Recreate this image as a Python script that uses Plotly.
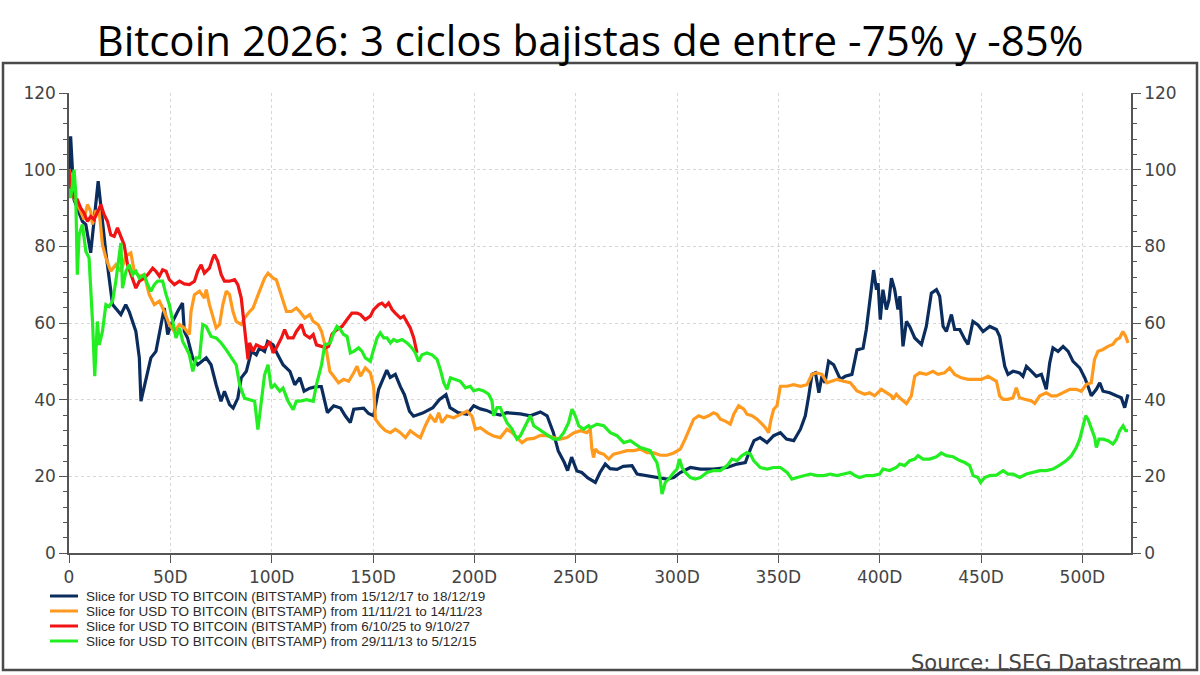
import plotly.graph_objects as go

# ---------------- data ----------------
series_names = [
    "Slice for USD TO BITCOIN (BITSTAMP) from 15/12/17 to 18/12/19",
    "Slice for USD TO BITCOIN (BITSTAMP) from 11/11/21 to 14/11/23",
    "Slice for USD TO BITCOIN (BITSTAMP) from 6/10/25 to 9/10/27",
    "Slice for USD TO BITCOIN (BITSTAMP) from 29/11/13 to 5/12/15",
]

blue_days = [0, 0.8, 2.5, 6.6, 8.3, 10.7, 14.4, 16.5, 18.2, 21.5, 25.6, 28, 29.7, 33, 34.7, 35.5, 38, 40.4,
             42.9, 45.4, 47, 48.7, 50.4, 53.6, 56, 56.9, 58.5, 61, 63.5, 67.7, 70.1, 72.6, 75, 76.7, 79.2, 81,
             83.3, 85, 87.5, 90, 92.4, 94, 96.5, 98, 100.7, 103, 105.6, 109, 111.4, 113.9, 116, 118.8, 122,
             124.5, 127.5, 130.6, 134, 136.3, 138.8, 140.5, 145.4, 147.8, 150.3, 152.8, 156.8, 158.5, 161,
             163.5, 165.5, 168, 170, 174.5, 179.5, 182.7, 186, 188, 192, 196.4, 199.7, 203, 206, 209.5, 212.8,
             216, 222.7, 227.6, 232.6, 235.9, 239, 241.4, 244.4, 246, 248, 250.6, 253, 256, 259.7, 262, 264.6,
             267, 270.4, 273.5, 277.8, 280.3, 285, 291.8, 295, 298.4, 301.6, 306.6, 311.5, 318, 324.7, 329.6,
             333.7, 336.2, 338, 341, 344.4, 347.7, 351, 354, 357.6, 360.9, 363.3, 365, 366.6, 368.3, 370,
             371.5, 373, 374.8, 377.3, 380.6, 383, 386.3, 388.8, 391.8, 393.4, 395, 397, 398.4, 399.2, 400.3,
             401.6, 403.3, 404.6, 405.8, 407.4, 409, 410, 411.5, 413.2, 414.8, 417.3, 420.6, 423, 425.5, 428,
             429.6, 431.3, 432.9, 435.4, 437, 439.5, 442, 443.6, 446, 448.5, 451, 454.3, 457.6, 459.2, 461.7,
             463.3, 465.8, 469, 470.7, 472.4, 474.9, 477.3, 479.8, 482.2, 483.9, 485.5, 488, 490.5, 493, 495.4,
             498.7, 501.2, 502.8, 504.4, 506.9, 508.6, 510.2, 513.5, 516.8, 519.2, 520.9, 522.5]
blue_vals = [100, 108.7, 92.2, 86.5, 85.7, 78.3, 97, 85.7, 78.3, 64.8, 62.2, 64.8, 63, 57.8, 50.9, 39.6, 45.7, 50.9,
             52.6, 59.6, 63.9, 57, 59.6, 63, 65.2, 57.8, 56.1, 50.9, 49.1, 50.9, 49.1, 43.9, 39.6, 42.2, 38.7, 37.8,
             40.4, 45.7, 47.4, 52.6, 51.7, 53.5, 52.6, 55.2, 54.3, 51.7, 49.1, 47.4, 43.9, 45.7, 42.2, 43, 43.4,
             43.4, 36.6, 38.4, 37.8, 35.8, 34, 37.5, 37.8, 36.4, 35.8, 42.7, 47.7, 45.8, 46.6,
             43.4, 41.3, 37, 35.7, 36.5, 37.9, 40, 41.3, 37.9, 36.6, 36.2, 38.4, 37.6, 37.2, 36.4, 36,
             36.6, 36.3, 35.8, 36.8, 35.8, 31.4, 26.6, 23.6, 21.5, 25, 21.4, 21, 19.6, 18.4, 21, 23.2,
             22, 21.8, 22.6, 22.8, 20.6, 20.2, 19.5, 19.3, 19.7, 21, 22.3, 21.9, 21.9, 22.3, 23.2,
             23.6, 27.1, 29.3, 30.1, 28.8, 30.6, 31.4, 29.7, 29.3, 32.3, 35.8, 41, 46.6, 47, 41.8,
             46.1, 44.4, 50, 49.1, 45.3, 46.1, 46.6, 53, 53.4, 58.3, 65.2, 73.8, 68.7, 70.4, 60.9,
             68.7, 63.5, 66.1, 71.7, 68.7, 63.5, 67, 53.9, 60.4, 59.1, 56.1, 54.4, 59.1, 67.8, 68.7,
             67, 59.1, 57.8, 62.2, 58.3, 58.3, 55.7, 54.4, 60.4, 59.5, 57.8, 59.1, 58.3, 56.5, 48.7,
             46.6, 47.4, 47, 46.1, 48.7, 47.4, 46.1, 46.6, 42.7, 49.6, 53.5, 52.6, 53.9, 52.6, 50,
             48.3, 45.7, 43.5, 41, 42.7, 44.4, 42.2, 41.8, 41, 40.5, 37.9, 41.4]

orange_days = [0, 0.8, 2.5, 5, 7.4, 9.1, 10.7, 11.6, 13.2, 14.9, 16.5, 18.2, 20.6, 23.1, 25.6, 28, 30.5, 32.2,
               34.7, 37.1, 39.6, 42.1, 44.6, 47, 49.5, 52, 54.5, 56.9, 59.4, 60.2, 61.9, 64.4, 66.8, 67.7, 69.3,
               71, 72.6, 74.3, 75.9, 77.6, 79.2, 80.9, 82.5, 85, 86.6, 89.1, 90.8, 94, 96.5, 98.2, 100.7, 102.3,
               104, 105.6, 107.3, 109.7, 112.2, 113.9, 116.3, 118.8, 120.5, 122.9, 124.6, 127.1, 128.7, 130.6,
               133, 135.5, 138, 140.5, 142.1, 143.8, 146.2, 148.7, 150.3, 151.2, 153.6, 156.1, 158.6, 161, 163.5,
               166, 168.4, 171.7, 173.4, 175.8, 178.3, 180.8, 182.4, 184, 186.5, 189.8, 193.1, 196.4, 198.8,
               200.5, 203, 206.3, 209.5, 212.8, 216.1, 218.6, 221, 223.5, 226, 229.3, 232.6, 235.9, 239.1,
               242.4, 245.7, 249, 252.3, 255.6, 257.2, 258, 258.8, 259.7, 261.4, 263.8, 266.3, 268.7, 272,
               275.3, 278.6, 281.9, 285.2, 288.5, 291.8, 295.1, 298.4, 301.6, 304, 305.8, 308.2, 310.7, 313.2,
               315.6, 318, 319.7, 321.4, 323.8, 326.3, 328, 330.4, 333, 334.5, 337, 339.5, 342, 343.6, 345.2,
               346.4, 347.7, 349.3, 351, 354.3, 357.6, 360.9, 364.1, 366.6, 369, 371.5, 374, 376.5, 379, 382.2,
               385.5, 388.8, 392.6, 395, 397.5, 400.8, 403.3, 405.8, 406.6, 408.2, 410.7, 413.2, 415.6, 417.3,
               419.7, 423, 426.3, 428.8, 432, 434.5, 437, 440.3, 443.6, 446.9, 450.2, 453.5, 456, 457.6, 459.2,
               460.9, 463.3, 465.8, 467.4, 469, 471.5, 474.8, 476.5, 479, 482.2, 484.7, 487.2, 490.5, 493.8,
               497, 499.5, 502, 504.4, 506, 507.7, 510.2, 512.6, 515, 516.8, 518.4, 520, 521.4, 522.5]
orange_vals = [100, 98.7, 92.6, 90, 87, 90.9, 89.1, 85.7, 89.1, 89.1, 80.4, 77, 73.5, 75.2, 73.5, 77.4, 78.3, 73.5,
               72.2, 72.6, 67.4, 64.8, 65.7, 63, 59.6, 57.8, 59.6, 58.7, 57, 63, 67.4, 68.3, 66.5, 68.7, 64.8,
               61.3, 58.7, 59.6, 64.8, 68.3, 67.4, 63, 60.4, 59.6, 61.3, 63, 63.9, 68.3, 71.7, 73, 71.7, 71.3,
               68.3, 65.7, 63, 63, 63.9, 63, 61.3, 62.2, 60.4, 59.6, 57.8, 52.6, 47.4, 46.1,
               44.4, 45.3, 44.8, 47, 48.7, 46.1, 48.3, 47, 43.5, 34.9, 33.2, 31.9, 31.4, 32.3, 31.4,
               30.1, 31.9, 30.6, 30.1, 33.2, 35.8, 34.2, 36.6, 34, 35.8, 35.3, 36.2, 37, 35.7,
               32.3, 32.7, 31.4, 30.5, 30.1, 32.3, 31.4, 30.1, 28.8, 29.7, 29.9, 30.7, 30.6, 30.1,
               29.7, 30.1, 31.3, 31.9, 31.4, 32.3, 27.1, 24.9, 27.1, 26.2, 25.8, 24.5, 25.8, 26.2,
               26.7, 26.7, 27.1, 26.2, 26.1, 25.5, 25.5, 26.1, 27.1, 29.7, 31.9, 34.9, 35.8, 35.3,
               35.8, 36.6, 36.2, 34.9, 34.4, 33.6, 36.2, 38.4, 37.5, 36.2, 35.8, 34.9, 33.6, 32.7, 31.4,
               34.9, 37.5, 38.4, 43.5, 43.5, 43.9, 43.5, 43.9, 46.6, 47, 46.6, 44.4, 44.8, 45.3, 44.8,
               44.4, 42.3, 41.4, 41.8, 41, 42.7, 41.8, 41, 40.1, 41.4, 40.1, 39, 41, 46.1,
               47, 46.6, 47.4, 46.6, 47, 48.3, 46.6, 45.7, 45.3, 45.3, 45.3, 46.1, 45.3, 44.8, 41,
               40.1, 40.1, 40.5, 43.1, 40.5, 40.1, 39.7, 39, 41, 41.8, 41, 41, 41.8, 42.7,
               42.7, 42.2, 44, 44.4, 50.5, 52.6, 53.1, 53.9, 54.4, 55.7, 56.1, 57.8, 56.5, 54.8]

red_days = [0, 0.8, 2.5, 4.1, 5.8, 7.4, 9.1, 10.7, 12.4, 14, 15.7, 17.3, 19, 20.6, 22.3, 23.9, 25.6, 27.2, 28.9,
            31.4, 33, 34.7, 37.1, 38.8, 41.3, 42.9, 44.6, 46.2, 47.9, 49.5, 52, 54.5, 56.9, 59.4, 61.9, 63.5,
            65.2, 66.8, 69.3, 71, 71.8, 73.4, 75.1, 76.7, 79.2, 81.7, 83.3, 85, 86.1, 87.1, 88.3, 89.1, 90.8,
            92.4, 94.1, 95.7, 97.4, 99, 100.7, 102.3, 104.8, 106.4, 108.1, 110.6, 112.2, 114.7, 116.3, 118.8,
            120.5, 122.1, 124.6, 126.5, 128.1, 129.8, 132.2, 134.7, 137.2, 139.6, 142.1, 143.8, 146.2, 148.7,
            150.3, 152.8, 154.4, 156.1, 157.7, 159.4, 161, 163.5, 165.1, 166.8, 168.4, 170.1, 171.7]
red_vals = [100, 95.2, 92.6, 92.2, 90, 88.7, 86.5, 87.8, 87, 89.1, 90.9, 88.3, 86.5, 83, 82.6, 84.8, 82.6, 80.4, 75.2,
            71.7, 69.1, 70.9, 71.7, 72.6, 74.3, 73.5, 72.2, 73.9, 73.5, 71.3, 70, 70.9, 70.2, 70, 70.9, 73.5,
            75.2, 73, 74.3, 77, 77.8, 76.1, 72.6, 70.9, 70.9, 71.3, 70, 66.5, 61.3, 56.1, 50.5, 54.8, 52.6,
            54.3, 53.9, 53.5, 53.9, 55.2, 52.2, 53.5, 56.1, 58.3, 56.1, 56.1, 57.8, 59.6, 57, 56.1,
            57, 54.3, 53.9, 53.5, 53.9, 57.1, 58.3, 59.1, 60.9, 62.6, 62.6, 62.2, 60.9, 61.8,
            63.5, 64.8, 65.2, 64.3, 65.2, 63.5, 62.6, 61.3, 61.8, 60.4, 58.7, 56.1, 52.2]

green_days = [0, 0.8, 1.7, 2.5, 3.3, 4.1, 5, 6.6, 8.3, 9.9, 11.6, 12.7, 14, 14.9, 16.5, 18.2, 19.8, 21.5, 23.1,
              24.8, 25.6, 26.4, 28.1, 29.7, 31.4, 33, 34.7, 37.1, 38.8, 40.4, 42.1, 43.7, 46.2, 47.9, 49.5, 51.2,
              52.8, 54.5, 56.1, 57.8, 59.4, 61.1, 62.7, 64.4, 66, 67.7, 70.1, 72.6, 75.1, 77.6, 80, 82.5, 84.2,
              86.6, 89.1, 91.6, 93.2, 94.9, 96.5, 98.2, 99.8, 101.5, 104, 105.6, 108.1, 110.6, 112.2, 113.9,
              117.2, 120.5, 122.1, 124.6, 126.2, 128.9, 130.6, 132.2, 133.9, 135.5, 137.2, 138.8, 140.5, 142.9,
              144.6, 146.2, 148.7, 150.3, 152, 153.6, 155.3, 156.9, 158.6, 160.2, 161.8, 164.3, 166.8, 169.2,
              170.9, 172.5, 174.2, 176.6, 179.1, 181.6, 183.2, 184.9, 186.5, 188.2, 190.6, 193.1, 195.6, 198,
              199.7, 202.1, 204.6, 207.1, 208.7, 209.5, 211.2, 212.8, 214.5, 216.1, 218.6, 221, 222.7, 224.3,
              226, 227.6, 229.3, 231.7, 234.2, 236.7, 239.1, 241.6, 244.1, 246.5, 248.2, 249.8, 251.5, 253.9,
              256.4, 257.2, 260.5, 263.8, 267.1, 270.4, 273.7, 277, 279.5, 281.9, 284.4, 286.8, 288.5, 290.1,
              291.4, 292.6, 294.2, 295.9, 298.4, 300, 301.2, 302.5, 304.1, 306.6, 309, 311.5, 314.8, 318.1,
              321.4, 324.7, 327.1, 329.6, 332.1, 334.5, 336.2, 337.8, 341.1, 344.4, 347.7, 351, 354.3, 356.7,
              359.2, 362.5, 365.8, 369.1, 372.4, 375.7, 378.9, 382.2, 385.5, 387.7, 390.1, 393.4, 396.7, 400,
              401.6, 404.9, 408.2, 409.9, 412.3, 414.8, 417.3, 418.9, 421.4, 424.7, 428, 430.4, 432.9, 436.2,
              439.5, 442, 444.4, 446.1, 448.5, 449.8, 451.8, 454.3, 457.6, 460.9, 463.3, 465.8, 469.1, 472.4,
              475.7, 479, 482.2, 485.5, 488.8, 492.1, 494.6, 497, 498.7, 500.3, 501.6, 502.8, 504.4, 506.1,
              506.9, 508.2, 510.2, 512.7, 515.1, 516.8, 518.4, 520.1, 521.4, 522.5]
green_vals = [95, 92.6, 96.1, 100, 94.3, 72.6, 83, 85.7, 78.7, 77, 60.4, 46.1, 60.4, 54.3, 57.8, 64.8, 64.3, 65.7, 70.9,
              77, 80.9, 69.1, 73.5, 75.2, 72.6, 73.5, 71.7, 72.6, 70, 68.3, 70, 70.9, 70.9, 67.4, 64.8, 60.4,
              56.1, 58.7, 55.2, 53.5, 51.7, 47.4, 50.9, 50.9, 59.6, 59.1, 56.5, 56.1, 54.8, 53, 50.9, 49.1, 43.9,
              40.4, 40, 39.6, 32.2, 39.6, 46.5, 49.1, 43, 43.9, 42.2, 43, 39.6, 37.4, 39.6, 39.6,
              40, 39.6, 43.9, 49.1, 54.3, 54.8, 57.4, 59.1, 58.3, 57, 56.5, 52.2, 52.6, 53.5,
              52.6, 50.9, 50, 53.1, 56.1, 57.4, 56.1, 56.1, 54.8, 55.7, 55.2, 55.7, 54.8, 53.5,
              52.2, 50, 51.7, 52.2, 51.7, 50.5, 47.9, 44.4, 42.7, 45.7, 45.3, 44.8, 43.1, 43.5,
              42.3, 42.7, 42.3, 41.4, 39.7, 35.8, 37.9, 37.9, 35.8, 34, 32.3, 29.7, 30.6, 32.3,
              34, 35.8, 33.2, 32.3, 31.4, 30.6, 29.7, 29.7, 31.4, 34, 37.5, 35.8, 33.2, 32.3,
              33.2, 32.7, 33.6, 33.2, 31.4, 30.6, 28.8, 29.3, 28.4, 27.5, 27.1, 26.7, 24.9, 23.6,
              20.2, 15.4, 18.4, 19.3, 21, 21.9, 24.5, 22.3, 21, 19.7, 19.3, 19.7, 21, 21.5,
              21.5, 22.8, 24.5, 24.1, 25.4, 26.2, 25.8, 24.1, 22.3, 21.9, 22.3, 22.3, 21, 19.3,
              19.7, 20.2, 20.6, 20.2, 20.2, 20.6, 20.2, 20.6, 21, 20.2, 19.7, 20.2, 20.2, 20.6,
              21.9, 21.5, 22.3, 23.2, 22.8, 24.1, 24.5, 25.4, 24.5, 24.5, 25.1, 26.1, 25.4, 25.1,
              24.1, 23.6, 22.8, 20.2, 19.7, 18.4, 19.7, 20.2, 20.3, 21.5, 20.6, 20.6, 19.7, 20.6,
              21, 21.5, 21.5, 21.9, 22.9, 24.1, 25.4, 27.5, 29.7, 33.2, 35.8, 34.9, 32.3, 30.1,
              27.5, 29.7, 29.7, 29.3, 28.4, 29.7, 31.9, 33.2, 31.9, 31.9]

x_tick_vals = [0, 50, 100, 150, 200, 250, 300, 350, 400, 450, 500]
x_tick_text = ["0", "50D", "100D", "150D", "200D", "250D", "300D", "350D", "400D", "450D", "500D"]
y_tick_vals = [0, 20, 40, 60, 80, 100, 120]

title_text = "Bitcoin 2026: 3 ciclos bajistas de entre -75% y -85%"
source_text = "Source: LSEG Datastream"

colors = ["#0b2d5e", "#ff9a1e", "#f01414", "#22ee22"]

# ---------------- layout geometry (pixels) ----------------
W, H = 1200, 675
ML, MR, MT, MB = 69, 69, 93, 122
PW, PH = W - ML - MR, H - MT - MB


def px_x(p):
    return (p - ML) / PW


def px_y(p):
    return (H - MB - p) / PH


fig = go.Figure()
all_days = [blue_days, orange_days, red_days, green_days]
all_vals = [blue_vals, orange_vals, red_vals, green_vals]
for i in range(4):
    fig.add_trace(go.Scatter(
        x=all_days[i], y=all_vals[i], mode="lines", name=series_names[i],
        line=dict(color=colors[i], width=3.2), showlegend=False,
        yaxis="y2" if i == 3 else "y",
    ))

axis_common = dict(
    showline=True, linecolor="#555555", linewidth=1.5,
    ticks="outside", ticklen=8, tickwidth=1.3, tickcolor="#555555",
    tickfont=dict(family="DejaVu Sans", size=17, color="#444444"),
    zeroline=False,
)

fig.update_layout(
    width=W, height=H,
    margin=dict(l=ML, r=MR, t=MT, b=MB),
    paper_bgcolor="white", plot_bgcolor="white",
    title=dict(text=title_text, x=0.4917, xanchor="center", y=1 - 41 / H, yanchor="middle",
               font=dict(family="Open Sans", size=42, color="#000000")),
    xaxis=dict(range=[0, 524], tickvals=x_tick_vals, ticktext=x_tick_text,
               showgrid=True, gridcolor="#d6d6d6", griddash="dot", gridwidth=1,
               **axis_common),
    yaxis=dict(range=[0, 120], tickvals=y_tick_vals,
               showgrid=True, gridcolor="#d6d6d6", griddash="dot", gridwidth=1,
               minor=dict(dtick=4, ticks="outside", ticklen=4, tickcolor="#555555", showgrid=False),
               **axis_common),
    yaxis2=dict(range=[0, 120], tickvals=y_tick_vals, overlaying="y", side="right",
                showgrid=False,
                minor=dict(dtick=4, ticks="outside", ticklen=4, tickcolor="#555555", showgrid=False),
                **axis_common),
)

shapes = []
annotations = []
# outer frame
shapes.append(dict(type="rect", xref="paper", yref="paper",
                   x0=px_x(3), x1=px_x(1197), y0=px_y(670), y1=px_y(63),
                   line=dict(color="#4a4a4a", width=2.5), fillcolor="rgba(0,0,0,0)", layer="below"))
# legend (manual)
leg_y = [596, 611, 626, 641]
for i in range(4):
    shapes.append(dict(type="line", xref="paper", yref="paper",
                       x0=px_x(50), x1=px_x(78), y0=px_y(leg_y[i]), y1=px_y(leg_y[i]),
                       line=dict(color=colors[i], width=3)))
    annotations.append(dict(xref="paper", yref="paper", x=px_x(84), y=px_y(leg_y[i]),
                            text=series_names[i], showarrow=False, xanchor="left", yanchor="middle",
                            font=dict(family="Liberation Sans, Arial", size=13.5, color="#2a2a2a")))
annotations.append(dict(xref="paper", yref="paper", x=px_x(1184), y=px_y(663), text=source_text,
                        showarrow=False, xanchor="right", yanchor="middle",
                        font=dict(family="DejaVu Sans", size=21, color="#444444")))
fig.update_layout(shapes=shapes, annotations=annotations)

fig.write_html("out.html")
